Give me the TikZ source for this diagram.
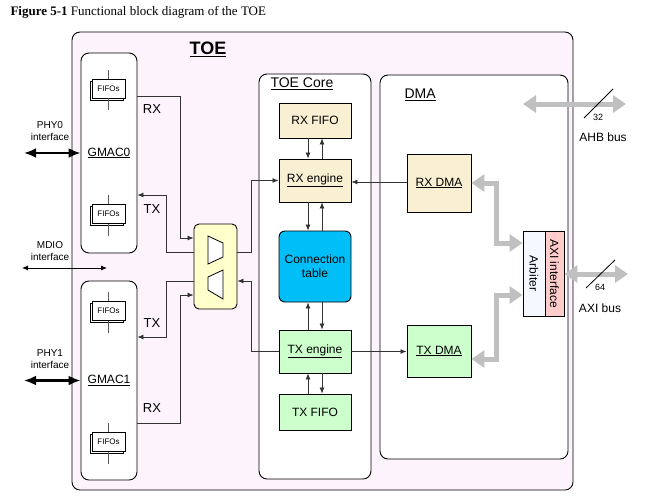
\documentclass[tikz,border=0pt]{standalone}
\usepackage{fontspec}
\setmainfont{Liberation Sans}
\newfontfamily\titlefont{Liberation Serif}
\usetikzlibrary{arrows.meta,shadows}

\definecolor{toepink}{HTML}{FCF3FC}
\definecolor{rxwheat}{HTML}{F9EFD2}
\definecolor{txgreen}{HTML}{CCFFCC}
\definecolor{conncyan}{HTML}{00BFF8}
\definecolor{muxyellow}{HTML}{FFFFCC}
\definecolor{arbblue}{HTML}{F5F9FF}
\definecolor{axipink}{HTML}{FFCCCC}
\definecolor{busgray}{HTML}{C0C0C0}

\begin{document}
\begin{tikzpicture}[x=1pt,y=-1pt]
        \tikzset{box/.style = {draw, line width=0.9pt, inner sep=0pt, align=center, font=\fontsize{12}{14}\selectfont}}
        \tikzset{round/.style = {box, rounded corners=8pt}}
        \tikzset{sig/.style = {draw=black!80, line width=0.8pt, -{Latex[length=6pt,width=5pt]}}}
        \tikzset{bus/.style = {draw=busgray, line width=5pt, {Triangle[length=13pt,width=17pt]}-{Triangle[length=13pt,width=17pt]}}}
        \tikzset{phy/.style = {line width=2.5pt, {Latex[length=12pt,width=10pt]}-{Latex[length=12pt,width=10pt]}}}
        \tikzset{fifo/.style = {draw, fill=white, line width=0.7pt, minimum width=33pt, minimum height=19pt, inner sep=0pt,
            font=\fontsize{8}{9}\selectfont, copy shadow={shadow xshift=-2pt, shadow yshift=-2pt, fill=white, draw}}}
        \tikzset{stub/.style = {draw=black!65, line width=0.8pt}}
        \tikzset{lbl/.style = {font=\fontsize{13}{15}\selectfont}}
        \tikzset{small/.style = {font=\fontsize{10}{12}\selectfont, align=center}}

        \useasboundingbox (0,0) rectangle (655,499);

        \node[anchor=west, font=\titlefont\fontsize{13}{15}\selectfont] (title) at (7,12) {\textbf{Figure 5-1} Functional block diagram of the TOE};

        \node[round, fill=toepink, minimum width=501pt, minimum height=458pt] (toe) at (322.5,261) {};
        \node[font=\fontsize{18}{20}\selectfont\bfseries] (toelbl) at (208,49) {\underline{TOE}};

        \node[round, fill=white, minimum width=56pt, minimum height=200pt] (gmac0) at (109,153) {\underline{GMAC0}};
        \node[round, fill=white, minimum width=56pt, minimum height=199pt] (gmac1) at (109,380.5) {\underline{GMAC1}};

        \node[fifo] (fifo0a) at (108.5,88.5) {FIFOs};
        \node[fifo] (fifo0b) at (108.5,214) {FIFOs};
        \node[fifo] (fifo1a) at (108.5,311) {FIFOs};
        \node[fifo] (fifo1b) at (108.5,442) {FIFOs};
        \draw[stub] (fifo0a.north) -- ++(0,-9) (fifo0a.south) -- ++(0,12);
        \draw[stub] (fifo0b.north) -- ++(0,-9) (fifo0b.south) -- ++(0,12);
        \draw[stub] (fifo1a.north) -- ++(0,-9) (fifo1a.south) -- ++(0,12);
        \draw[stub] (fifo1b.north) -- ++(0,-9) (fifo1b.south) -- ++(0,12);

        \node[box, rounded corners=5pt, fill=muxyellow, minimum width=43pt, minimum height=85pt] (mux) at (215.5,266.5) {};
        \draw[line width=0.8pt, fill=white] (208,236) -- (223,243) -- (223,257) -- (208,264) -- cycle;
        \draw[line width=0.8pt, fill=white] (208,277) -- (223,270) -- (223,299) -- (208,290) -- cycle;

        \node[round, fill=white, minimum width=112pt, minimum height=405pt] (core) at (315,276.5) {};
        \node[anchor=west, font=\fontsize{14}{16}\selectfont] (corelbl) at (267,84) {\underline{TOE Core}};
        \node[box, fill=rxwheat, minimum width=72pt, minimum height=35pt] (rxfifo) at (315,120.5) {RX FIFO};
        \node[box, fill=rxwheat, minimum width=72pt, minimum height=43pt] (rxeng) at (315,180.5) {\underline{RX engine}};
        \node[box, rounded corners=6pt, fill=conncyan, minimum width=72pt, minimum height=71pt] (conn) at (315,266.5) {Connection\\table};
        \node[box, fill=txgreen, minimum width=72pt, minimum height=43pt] (txeng) at (315,351.5) {\underline{TX engine}};
        \node[box, fill=txgreen, minimum width=72pt, minimum height=36pt] (txfifo) at (315,412) {TX FIFO};

        \node[round, fill=white, minimum width=188pt, minimum height=384pt] (dma) at (474,267) {};
        \node[anchor=west, font=\fontsize{14}{16}\selectfont] (dmalbl) at (401,95) {\underline{DMA}};
        \node[box, fill=rxwheat, minimum width=64pt, minimum height=58pt] (rxdma) at (439,183) {\underline{RX DMA}};
        \node[box, fill=txgreen, minimum width=64pt, minimum height=52pt] (txdma) at (439,351) {\underline{TX DMA}};
        \node[box, fill=arbblue, minimum width=22pt, minimum height=85pt] (arb) at (534,273.5) {};
        \node[box, fill=axipink, minimum width=19pt, minimum height=85pt] (axi) at (554.5,273.5) {};
        \node[rotate=-90, font=\fontsize{12}{14}\selectfont] (arblbl) at (arb.center) {Arbiter};
        \node[rotate=-90, font=\fontsize{12}{14}\selectfont] (axilbl) at (axi.center) {AXI interface};

        % GMAC <-> mux
        \draw[sig] (gmac0.east |- 0,96) -- (180,96) |- (mux.west |- 0,238);
        \draw[sig] (mux.west |- 0,252) -- (166,252) |- (gmac0.east |- 0,195);
        \draw[sig] (mux.west |- 0,281) -- (166,281) |- (gmac1.east |- 0,337);
        \draw[sig] (gmac1.east |- 0,423) -- (180,423) |- (mux.west |- 0,295);
        \node[lbl] (rx0) at (152,109) {RX};
        \node[lbl] (tx0) at (152,209) {TX};
        \node[lbl] (tx1) at (152,323) {TX};
        \node[lbl] (rx1) at (152,408) {RX};

        % mux <-> core
        \draw[sig] (mux.east |- 0,252) -- (251,252) |- (rxeng.west);
        \draw[sig] (txeng.west) -- (251,351.5) |- (mux.east |- 0,281);

        \draw[sig] (rxfifo.south -| 308,0) -- (rxeng.north -| 308,0);
        \draw[sig] (rxeng.north -| 322,0) -- (rxfifo.south -| 322,0);
        \draw[sig] (rxeng.south -| 308,0) -- (conn.north -| 308,0);
        \draw[sig] (conn.north -| 322,0) -- (rxeng.south -| 322,0);
        \draw[sig] (txeng.north -| 308,0) -- (conn.south -| 308,0);
        \draw[sig] (conn.south -| 322,0) -- (txeng.north -| 322,0);
        \draw[sig] (txfifo.north -| 308,0) -- (txeng.south -| 308,0);
        \draw[sig] (txeng.south -| 322,0) -- (txfifo.north -| 322,0);

        % core <-> dma
        \draw[sig] (rxdma.west |- 0,182) -- (rxeng.east |- 0,182);
        \draw[sig] (txeng.east) -- (txdma.west |- txeng.east);

        % buses
        \draw[bus] (rxdma.east) -- (496,183) |- (arb.west |- 0,243);
        \draw[bus] (txdma.east |- 0,359) -- (496,359) |- (arb.west |- 0,295);
        \coordinate (axiend) at (628,274);
        \draw[bus] (axi.east |- axiend) -- (axiend);
        \coordinate (ahbL) at (523,104);
        \coordinate (ahbR) at (626,104);
        \draw[bus] (ahbL) -- (ahbR);
        \draw[line width=0.8pt] (584,118) -- (613,89);
        \draw[line width=0.8pt] (586,288) -- (615,260);
        \node[font=\fontsize{9}{10}\selectfont] (w32) at (598,117) {32};
        \node[font=\fontsize{12}{14}\selectfont] (ahb) at (603,137) {AHB bus};
        \node[font=\fontsize{9}{10}\selectfont] (w64) at (600,287) {64};
        \node[font=\fontsize{12}{14}\selectfont] (axibus) at (600,308) {AXI bus};

        % external interfaces
        \coordinate (phy0end) at (24,153);
        \coordinate (phy1end) at (24,380.5);
        \coordinate (mdioL) at (22,268);
        \coordinate (mdioR) at (107,268);
        \draw[phy] (phy0end) -- (gmac0.west);
        \draw[phy] (phy1end) -- (gmac1.west);
        \draw[line width=0.8pt, {Latex[length=6pt,width=5pt]}-{Latex[length=6pt,width=5pt]}] (mdioL) -- (mdioR);
        \node[small] (phy0) at (50,131) {PHY0\\interface};
        \node[small] (mdio) at (50,251) {MDIO\\interface};
        \node[small] (phy1) at (50,359) {PHY1\\interface};

        \end{tikzpicture}
\end{document}
